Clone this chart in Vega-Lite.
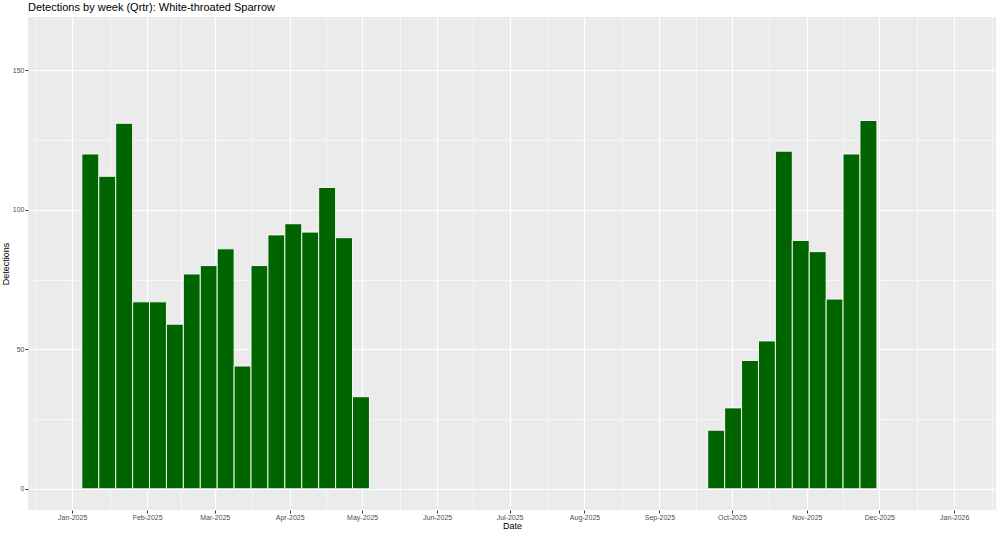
{
  "$schema": "https://vega.github.io/schema/vega-lite/v6.json",
  "width": 968,
  "height": 493,
  "autosize": "none",
  "padding": {"left": 28, "top": 17, "right": 4, "bottom": 24},
  "background": "white",
  "title": {
    "text": "Detections by week (Qrtr): White-throated Sparrow",
    "anchor": "start",
    "frame": "group",
    "font": "Liberation Sans",
    "fontSize": 11,
    "fontWeight": "normal",
    "color": "#000000",
    "offset": 4
  },
  "config": {
    "view": {"fill": "#EBEBEB", "stroke": null},
    "font": "Liberation Sans",
    "axis": {
      "labelFont": "Liberation Sans",
      "titleFont": "Liberation Sans",
      "labelFontSize": 7,
      "labelColor": "#4D4D4D",
      "titleFontSize": 9,
      "titleFontWeight": "normal",
      "titleColor": "#000000",
      "tickColor": "#333333",
      "tickSize": 3,
      "tickWidth": 1,
      "labelPadding": 1,
      "domain": false,
      "gridColor": "#FFFFFF"
    }
  },
  "data": {
    "values": [
      {"start": "2025-01-05", "end": "2025-01-12", "count": 120},
      {"start": "2025-01-12", "end": "2025-01-19", "count": 112},
      {"start": "2025-01-19", "end": "2025-01-26", "count": 131},
      {"start": "2025-01-26", "end": "2025-02-02", "count": 67},
      {"start": "2025-02-02", "end": "2025-02-09", "count": 67},
      {"start": "2025-02-09", "end": "2025-02-16", "count": 59},
      {"start": "2025-02-16", "end": "2025-02-23", "count": 77},
      {"start": "2025-02-23", "end": "2025-03-02", "count": 80},
      {"start": "2025-03-02", "end": "2025-03-09", "count": 86},
      {"start": "2025-03-09", "end": "2025-03-16", "count": 44},
      {"start": "2025-03-16", "end": "2025-03-23", "count": 80},
      {"start": "2025-03-23", "end": "2025-03-30", "count": 91},
      {"start": "2025-03-30", "end": "2025-04-06", "count": 95},
      {"start": "2025-04-06", "end": "2025-04-13", "count": 92},
      {"start": "2025-04-13", "end": "2025-04-20", "count": 108},
      {"start": "2025-04-20", "end": "2025-04-27", "count": 90},
      {"start": "2025-04-27", "end": "2025-05-04", "count": 33},
      {"start": "2025-09-21", "end": "2025-09-28", "count": 21},
      {"start": "2025-09-28", "end": "2025-10-05", "count": 29},
      {"start": "2025-10-05", "end": "2025-10-12", "count": 46},
      {"start": "2025-10-12", "end": "2025-10-19", "count": 53},
      {"start": "2025-10-19", "end": "2025-10-26", "count": 121},
      {"start": "2025-10-26", "end": "2025-11-02", "count": 89},
      {"start": "2025-11-02", "end": "2025-11-09", "count": 85},
      {"start": "2025-11-09", "end": "2025-11-16", "count": 68},
      {"start": "2025-11-16", "end": "2025-11-23", "count": 120},
      {"start": "2025-11-23", "end": "2025-11-30", "count": 132}
    ]
  },
  "layer": [
    {
      "mark": {"type": "bar", "fillOpacity": 0, "strokeOpacity": 0},
      "encoding": {
        "x": {
          "field": "start",
          "type": "temporal",
          "scale": {
            "type": "utc",
            "domain": [
              {"year": 2024, "month": 12, "date": 13, "hours": 17, "utc": true},
              {"year": 2026, "month": 1, "date": 18, "hours": 7, "utc": true}
            ]
          },
          "axis": {
            "orient": "top",
            "labels": false,
            "ticks": false,
            "title": null,
            "grid": true,
            "gridWidth": 0.6,
            "values": [
              {"year": 2024, "month": 12, "date": 16, "hours": 12, "utc": true},
              {"year": 2025, "month": 1, "date": 16, "hours": 12, "utc": true},
              {"year": 2025, "month": 2, "date": 15, "utc": true},
              {"year": 2025, "month": 3, "date": 16, "hours": 12, "utc": true},
              {"year": 2025, "month": 4, "date": 16, "utc": true},
              {"year": 2025, "month": 5, "date": 16, "hours": 12, "utc": true},
              {"year": 2025, "month": 6, "date": 16, "utc": true},
              {"year": 2025, "month": 7, "date": 16, "hours": 12, "utc": true},
              {"year": 2025, "month": 8, "date": 16, "hours": 12, "utc": true},
              {"year": 2025, "month": 9, "date": 16, "utc": true},
              {"year": 2025, "month": 10, "date": 16, "hours": 12, "utc": true},
              {"year": 2025, "month": 11, "date": 16, "utc": true},
              {"year": 2025, "month": 12, "date": 16, "hours": 12, "utc": true},
              {"year": 2026, "month": 1, "date": 16, "hours": 12, "utc": true}
            ]
          }
        },
        "x2": {"field": "end"},
        "y": {
          "field": "count",
          "type": "quantitative",
          "scale": {"domain": [-7.6, 169.1], "nice": false, "zero": false},
          "axis": {
            "orient": "right",
            "labels": false,
            "ticks": false,
            "title": null,
            "grid": true,
            "gridWidth": 0.6,
            "values": [25, 75, 125]
          }
        },
        "y2": {"datum": 0}
      }
    },
    {
      "mark": {"type": "bar", "fill": "#006400", "stroke": "#FFFFFF", "strokeWidth": 1, "strokeOpacity": 0.9},
      "encoding": {
        "x": {
          "field": "start",
          "type": "temporal",
          "scale": {
            "type": "utc",
            "domain": [
              {"year": 2024, "month": 12, "date": 13, "hours": 17, "utc": true},
              {"year": 2026, "month": 1, "date": 18, "hours": 7, "utc": true}
            ]
          },
          "axis": {
            "orient": "bottom",
            "title": "Date",
            "titlePadding": 1,
            "labelPadding": 0,
            "format": "%b-%Y",
            "grid": true,
            "gridWidth": 1.2,
            "labelFlush": false,
            "labelOverlap": false,
            "values": [
              {"year": 2025, "month": 1, "date": 1, "utc": true},
              {"year": 2025, "month": 2, "date": 1, "utc": true},
              {"year": 2025, "month": 3, "date": 1, "utc": true},
              {"year": 2025, "month": 4, "date": 1, "utc": true},
              {"year": 2025, "month": 5, "date": 1, "utc": true},
              {"year": 2025, "month": 6, "date": 1, "utc": true},
              {"year": 2025, "month": 7, "date": 1, "utc": true},
              {"year": 2025, "month": 8, "date": 1, "utc": true},
              {"year": 2025, "month": 9, "date": 1, "utc": true},
              {"year": 2025, "month": 10, "date": 1, "utc": true},
              {"year": 2025, "month": 11, "date": 1, "utc": true},
              {"year": 2025, "month": 12, "date": 1, "utc": true},
              {"year": 2026, "month": 1, "date": 1, "utc": true}
            ]
          }
        },
        "x2": {"field": "end"},
        "y": {
          "field": "count",
          "type": "quantitative",
          "scale": {"domain": [-7.6, 169.1], "nice": false, "zero": false},
          "axis": {
            "orient": "left",
            "title": "Detections",
            "titlePadding": 2,
            "grid": true,
            "gridWidth": 1.2,
            "values": [0, 50, 100, 150]
          }
        },
        "y2": {"datum": 0}
      }
    }
  ],
  "resolve": {"axis": {"x": "independent", "y": "independent"}}
}
